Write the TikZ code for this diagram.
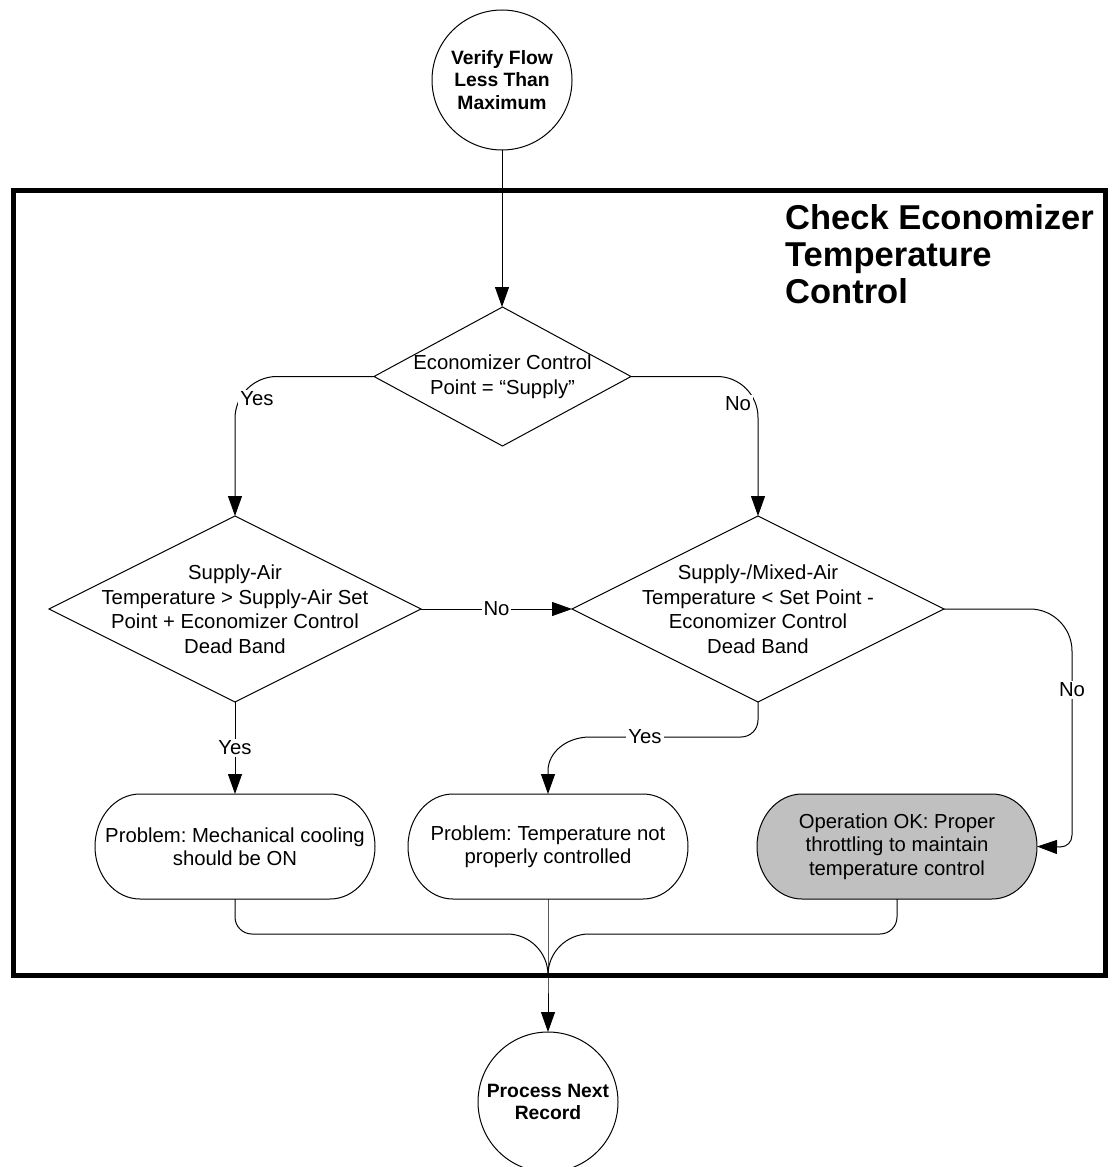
\documentclass[tikz,border=0pt]{standalone}
\usepackage{fontspec}
\setmainfont{Liberation Sans}
\frenchspacing
\usetikzlibrary{arrows.meta,shapes.geometric,backgrounds}
\definecolor{okgray}{RGB}{192,192,192}
\begin{document}
\begin{tikzpicture}[x=1pt,y=-1pt,
  conn/.style={line width=1pt, draw=black},
  arr/.style={conn, -{Triangle[length=20pt,width=14pt]}},
  decision/.style={draw, line width=1pt, diamond, inner sep=0pt, outer sep=0pt},
  dtxt/.style={font=\fontsize{20.3}{24.5}\selectfont, align=center, inner sep=0pt},
  terminal/.style={rectangle, inner sep=0pt, outer sep=0pt, minimum width=280pt, minimum height=105pt,
    font=\fontsize{20.3}{23.3}\selectfont, align=center},
  endpoint/.style={draw, circle, line width=1pt, minimum size=140pt, inner sep=0pt, outer sep=0pt,
    font=\bfseries\fontsize{19.3}{22.5}\selectfont, align=center},
  lbl/.style={fill=white, inner sep=2pt, font=\fontsize{20.3}{24}\selectfont},
  titletxt/.style={font=\bfseries\fontsize{34.5}{37}\selectfont, align=left, inner sep=0pt}
]
\useasboundingbox (0,0) rectangle (1114,1167);

% group frame
\draw[line width=5pt] (13,190) rectangle (1105,975);
\node[titletxt, anchor=base west] (title) at (785,303) {Check Economizer\\Temperature\\Control};

% start / end points
\node[endpoint] (start) at (502,80) {Verify Flow\\Less Than\\Maximum};
\node[endpoint] (next) at (548,1102) {Process Next\\Record};

% decisions
\node[decision, minimum width=257pt, minimum height=139pt,
  label={[dtxt]center:{Economizer Control\\Point = “Supply”}}] (d1) at (502.5,376.5) {};
\node[decision, minimum width=372pt, minimum height=186pt,
  label={[dtxt]center:{Supply-Air\\Temperature > Supply-Air Set\\Point + Economizer Control\\Dead Band}}] (d2) at (235,609) {};
\node[decision, minimum width=372pt, minimum height=186pt,
  label={[dtxt]center:{Supply-/Mixed-Air\\Temperature < Set Point -\\Economizer Control\\Dead Band}}] (d3) at (758,609) {};

% outcomes
\node[terminal] (b1) at (235,846.5) {Problem: Mechanical cooling\\should be ON};
\node[terminal] (b2) at (548,846.5) {Problem: Temperature not\\properly controlled};
\node[terminal] (b3) at (897,846.5) {Operation OK: Proper\\throttling to maintain\\temperature control};

\begin{scope}[on background layer]
  \foreach \b/\f in {b1/white, b2/white, b3/okgray} {
    \draw[line width=1pt, fill=\f]
      ([xshift=45pt]\b.north west) -- ([xshift=-45pt]\b.north east)
      arc[start angle=90, end angle=-90, x radius=45pt, y radius=52.5pt]
      -- ([xshift=45pt]\b.south west)
      arc[start angle=270, end angle=90, x radius=45pt, y radius=52.5pt] -- cycle;
  }
\end{scope}

% connectors
\draw[arr] (start.south) -- (start.south |- d1.north);
\draw[arr, rounded corners=42pt] (d1.west) -| (d2.north);
\draw[arr, rounded corners=41pt] (d1.east) -| (d3.north);
\draw[arr] (d2.east) -- node[lbl] (no2) {No} (d3.west);
\draw[arr] (d2.south) -- node[lbl] (yes2) {Yes} (b1.north);
\draw[arr] (d3.east) -- (1030,609) .. controls (1053,609) and (1072,628) .. (1072,651)
  -- (1072,835) .. controls (1072,842) and (1067,847) .. (1060,847) -- (b3.east);
\draw[arr] (d3.south) -- (758,720) .. controls (758,729.4) and (750.4,737) .. (741,737)
  -- (590,737) .. controls (566.8,737) and (548,752) .. (548,771) -- (b2.north);

\coordinate (m) at (548,975);
\draw[conn] (b1.south) -- (235,917) .. controls (235,926.4) and (242.6,934) .. (252,934)
  -- (507,934) .. controls (529.6,934) and (548,952.4) .. (m);
\draw[conn] (b3.south) -- (897,917) .. controls (897,926.4) and (889.4,934) .. (880,934)
  -- (589,934) .. controls (566.4,934) and (548,952.4) .. (m);
\draw[arr] (b2.south) -- (m) -- (next.north);

% branch labels on curved connectors
\node[lbl] (yes1) at (257,399) {Yes};
\node[lbl] (no1) at (738,404) {No};
\node[lbl] (yes3) at (645,737) {Yes};
\node[lbl] (no3) at (1072,690) {No};
\end{tikzpicture}
\end{document}
